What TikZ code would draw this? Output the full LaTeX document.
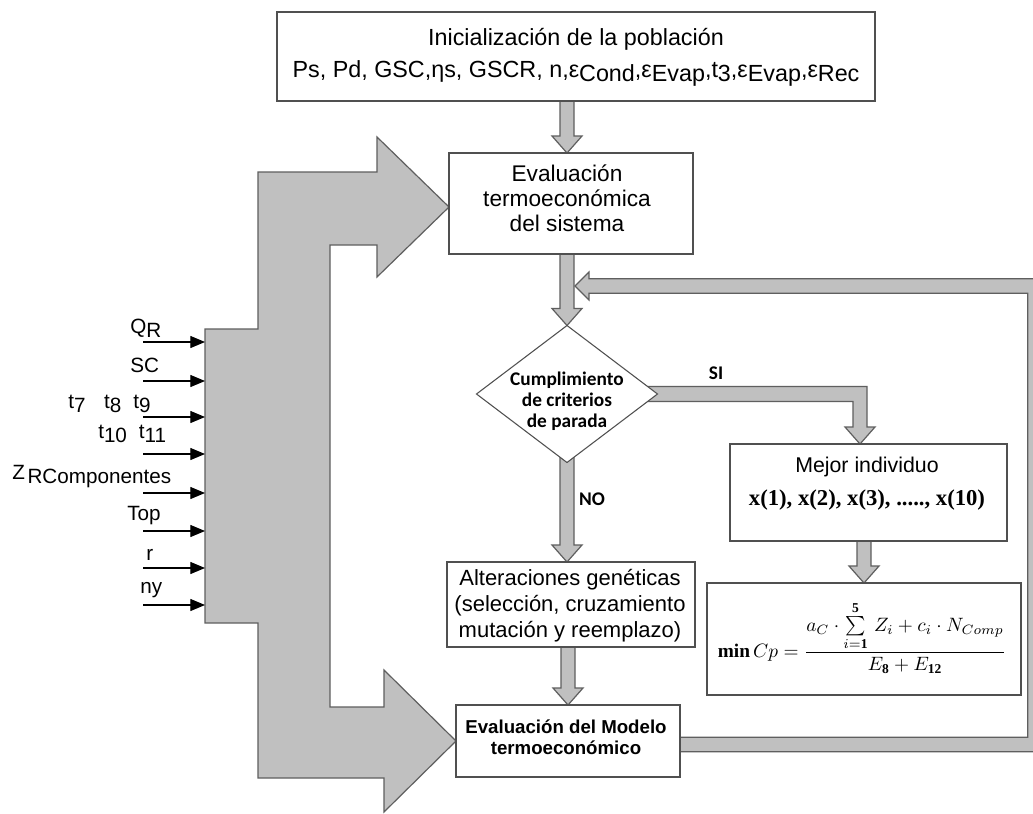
\documentclass[tikz,border=0pt]{standalone}
\usepackage{amsmath}
\usepackage{graphicx}
\usepackage{fontspec}
\setmainfont{Liberation Sans}
\newfontfamily\lblfont{Liberation Sans}
\newfontfamily\carl{Carlito}
\newfontfamily\tnr{Liberation Serif}
\usetikzlibrary{calc,arrows.meta,shapes.geometric,backgrounds}
\definecolor{blockfill}{RGB}{192,192,192}
\definecolor{blockline}{RGB}{95,95,95}
\definecolor{boxline}{RGB}{80,80,80}
\newcommand{\lo}[1]{\raisebox{-3pt}{#1}}
\newcommand{\tb}[1]{\text{\tnr\bfseries #1}}
\newcommand{\vblock}[2]{%
  \path[blk] let \p1=(#1), \p2=(#2) in
    (\x2-5.25pt,\y1) -- (\x2-5.25pt,\y2+12.75pt) -- (\x2-11.25pt,\y2+12.75pt)
    -- (\x2,\y2) -- (\x2+11.25pt,\y2+12.75pt) -- (\x2+5.25pt,\y2+12.75pt)
    -- (\x2+5.25pt,\y1) -- cycle;}
\tikzset{
  box/.style={draw=boxline, line width=1.1pt, fill=white, inner sep=0pt, outer sep=0pt},
  blk/.style={fill=blockfill, draw=blockline, line width=0.9pt, line join=miter},
  inarrow/.style={draw=black, line width=0.9pt, -{Triangle[length=11pt,width=9pt]}},
  lbl/.style={font=\lblfont\fontsize{15.5}{17}\selectfont, inner sep=0pt, anchor=base west},
  txt/.style={align=center, inner sep=0pt},
  dec/.style={font=\carl\bfseries\fontsize{14.5}{15.75}\selectfont, inner sep=0pt}
}
\begin{document}
\begin{tikzpicture}[x=0.75pt,y=-0.75pt]
\useasboundingbox (0,0) rectangle (1033,814);
% boxes
\node[box, minimum width=448.5pt, minimum height=66.75pt] (init) at (576,56.5) {};
\node[txt, font=\fontsize{17.5}{24}\selectfont] (initT) at (576,57) {Inicialización de la población\\Ps, Pd, GSC,ηs, GSCR, n,ε\lo{Cond},ε\lo{Evap},t\lo{3},ε\lo{Evap},ε\lo{Rec}};
\node[box, minimum width=183pt, minimum height=75.75pt] (ev1) at (571,203.5) {};
\node[txt, font=\fontsize{17}{18.75}\selectfont] (ev1T) at (567,198) {Evaluación\\termoeconómica\\del sistema};
\node[diamond, draw=boxline, line width=0.8pt, fill=white, minimum width=135.75pt, minimum height=102.75pt, inner sep=0pt, outer sep=0pt] (dia) at (567,394) {};
\node[dec, align=center] (diaT) at (567,401) {Cumplimiento\\de criterios\\de parada};
\node[box, minimum width=186pt, minimum height=63.75pt] (alt) at (571,604.5) {};
\node[txt, font=\fontsize{16.5}{19.5}\selectfont] (altT) at (570,606) {Alteraciones genéticas\\(selección, cruzamiento\\mutación y reemplazo)};
\node[box, minimum width=168pt, minimum height=54pt] (ev2) at (568,741) {};
\node[txt, font=\bfseries\fontsize{14}{15.75}\selectfont] (ev2T) at (566,737.5) {Evaluación del Modelo\\termoeconómico};
\node[box, minimum width=207.75pt, minimum height=72.75pt] (mej) at (868.5,492.5) {};
\node[txt, font=\fontsize{16}{24.75}\selectfont] (mejT) at (867,483.5) {Mejor individuo\\{\tnr\bfseries\fontsize{17}{20}\selectfont x(1), x(2), x(3), ....., x(10)}};
\node[box, minimum width=235.5pt, minimum height=84pt] (form) at (864,639) {};
\node[txt] (formT) at (862,638) {\scalebox{1.45}{$\tb{min}\,Cp=\dfrac{\textstyle a_{C}\cdot\sum\limits_{i=\tb{1}}^{\tb{5}}\,Z_{i}+c_{i}\cdot N_{Comp}}{E_{\tb{8}}+E_{\tb{12}}}$}};
\node[dec] (si) at (716,373) {SI};
\node[dec] (no) at (592,499) {NO};
% left labels
\node[lbl] (lQ) at (130,333) {Q\lo{R}};
\node[lbl] (lSC) at (130,372) {SC};
\node[lbl] (lt7) at (68,408) {t\lo{7}\hspace{14pt}t\lo{8}\hspace{9pt}t\lo{9}};
\node[lbl] (lt10) at (98,438) {t\lo{10}\hspace{9pt}t\lo{11}};
\node[lbl] (lZ) at (12,479) {Z\hspace{2pt}\lo{RComponentes}};
\node[lbl] (lTop) at (127,520) {Top};
\node[lbl] (lr) at (146,560) {r};
\node[lbl] (lny) at (140,593) {ny};
% input arrows
\foreach \i/\yy in {1/342,2/381,3/417,4/454,5/493,6/531,7/568,8/605}{
  \coordinate (s\i) at (143,\yy);
  \coordinate (t\i) at (205,\yy);
  \draw[inarrow] (s\i) -- (t\i);
}
\coordinate (ret) at (575,286);
\coordinate (rc) at (1035,744.5);
\coordinate (ev1tip) at ($(ev1.west)+(0,3.5)$);
\begin{pgfonlayer}{background}
\fill[white] (0,0) rectangle (1033,814);
\clip (0,0) rectangle (1033,814);
% big input arrow
\path[blk] (258,172) -- (377,172) -- (377,137) -- (ev1tip) -- (377,277) -- (377,245)
  -- (330,245) -- (330,707) -- (384,707) -- (384,670) -- (ev2.west) -- (384,812)
  -- (384,778) -- (258,778) -- (258,623) -- (205,623) -- (205,329) -- (258,329) -- cycle;
% vertical flow arrows
\vblock{init.south -| dia.north}{ev1.north -| dia.north}
\vblock{ev1.south -| dia.north}{dia.north}
\vblock{$(dia.south)+(0,-12)$}{alt.north -| dia.south}
\vblock{alt.south -| ev2.north}{ev2.north}
\vblock{mej.south -| form.north}{form.north}
% SI elbow
\path[blk] let \p1=(dia.east), \p2=($(mej.north)+(-8.5,0)$) in
  (\x1-12pt,\y1+5.6pt) -- (\x2+5.25pt,\y1+5.6pt) -- (\x2+5.25pt,\y2+12.75pt)
  -- (\x2+11.25pt,\y2+12.75pt) -- (\x2,\y2) -- (\x2-11.25pt,\y2+12.75pt)
  -- (\x2-5.25pt,\y2+12.75pt) -- (\x2-5.25pt,\y1-5.6pt) -- (\x1-12pt,\y1-5.6pt) -- cycle;
% return loop
\path[blk] let \p1=(ev2.east), \p2=(rc), \p3=(ret) in
  (\x1-3pt,\y2+5.4pt) -- (\x2-5.4pt,\y2+5.4pt) -- (\x2-5.4pt,\y3-5.4pt)
  -- (\x3+10.5pt,\y3-5.4pt) -- (\x3+10.5pt,\y3-10.5pt) -- (\x3,\y3)
  -- (\x3+10.5pt,\y3+10.5pt) -- (\x3+10.5pt,\y3+5.4pt) -- (\x2+5.4pt,\y3+5.4pt)
  -- (\x2+5.4pt,\y2-5.4pt) -- (\x1-3pt,\y2-5.4pt) -- cycle;
\end{pgfonlayer}
\end{tikzpicture}
\end{document}
